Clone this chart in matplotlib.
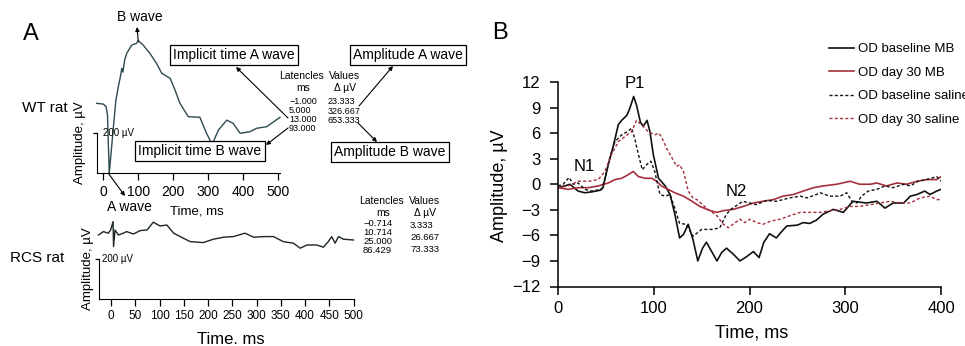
import numpy as np
import matplotlib.pyplot as plt

plt.rcParams['font.family'] = ['Liberation Sans', 'DejaVu Sans']

W, H = 965, 346

# ---- panel A: WT rat ERG trace (time ms, amplitude uV) ----
wt_t = [-19, 0, 8, 12, 17, 29, 36, 43, 48, 53, 56, 61, 67, 81, 95, 100, 114, 133, 152, 167,
        191, 205, 219, 243, 276, 295, 311, 329, 353, 371, 391, 419, 438, 467, 505]
wt_v = [351, 347, 334, 292, 1, 234, 367, 434, 477, 526, 507, 567, 601, 642, 651, 664, 642, 601, 551, 501,
        476, 417, 351, 284, 281, 201, 146, 217, 267, 251, 201, 209, 226, 234, 281]

# ---- panel A: RCS rat ERG trace ----
rcs_t = [-26, -16, -6, -1, 4, 5, 8, 15, 25, 32, 46, 60, 74, 87, 101, 115, 129, 149, 163, 190,
         211, 232, 252, 276, 294, 314, 335, 355, 376, 390, 404, 424, 438, 448, 455, 462, 469, 479, 500]
rcs_v = [320, 337, 329, 345, 387, 262, 345, 320, 329, 337, 325, 342, 345, 384, 365, 370, 329, 304, 287, 282,
         299, 309, 312, 329, 309, 312, 312, 287, 279, 254, 270, 270, 259, 287, 312, 279, 312, 299, 295]

wt_lat = ['\u22121.000', '5.000', '13.000', '93.000']
wt_amp = ['23.333', '326.667', '653.333']
rcs_lat = ['\u22120.714', '10.714', '25.000', '86.429']
rcs_amp = ['3.333', '26.667', '73.333']

# ---- panel B: VEP traces ----
bmb_t = [0, 7, 12.5, 21, 28, 35, 44, 47, 52.5, 58, 63, 66.5, 72, 75, 79, 82, 86, 89, 93, 96, 99.5,
         105, 112, 117, 122, 127, 131, 136, 141, 146, 151, 155, 160, 166, 171, 176, 183, 190, 197,
         204, 210, 215, 221, 228, 234, 239, 250, 256, 263, 270, 277, 287.5, 298, 308, 322, 333,
         341.5, 350, 361, 368, 375, 383, 388.5, 395.5, 400]
bmb_v = [-0.4, -0.2, 0, -0.8, -1.0, -0.9, -0.7, -0.4, 2.3, 4.6, 7.0, 7.5, 8.1, 8.9, 10.3, 9.3, 7.3, 6.8, 7.5, 6.2, 3.5,
         0.7, -0.2, -1.2, -3.5, -6.3, -5.9, -4.7, -6.5, -9.0, -7.5, -6.8, -7.8, -9.0, -8.0, -7.5, -8.2, -9.0, -8.5,
         -7.9, -8.6, -6.8, -5.8, -6.3, -5.5, -4.9, -4.8, -4.5, -4.6, -4.2, -3.5, -2.95, -3.3, -2.0, -2.2, -2.0,
         -2.8, -2.2, -2.2, -1.4, -1.2, -0.8, -1.2, -0.8, -0.6]

dmb_t = [0, 10.8, 21, 32, 42, 52.5, 59.5, 66.5, 73, 78.6, 84, 91, 98, 103, 108, 115, 122, 131, 140, 148,
         159, 166, 172.6, 183, 193.5, 204, 214, 225, 235, 246, 256, 267, 277, 291, 305, 315, 326, 333,
         343, 354, 364, 375, 385, 395.5, 400]
dmb_v = [-0.4, -0.6, -0.4, -0.4, -0.2, 0.15, 0.55, 0.7, 1.1, 1.5, 0.9, 0.7, 0.7, 0.35, -0.2, -0.6, -1.0, -1.4, -2.0, -2.6,
         -3.1, -3.3, -3.1, -2.95, -2.6, -2.2, -2.0, -1.8, -1.4, -1.2, -0.8, -0.4, -0.2, 0, 0.35, 0, 0, 0.15,
         -0.2, 0.15, 0, 0.35, 0.55, 0.55, 0.9]

bsal_t = [0, 5.5, 11.5, 16, 21, 28, 35, 45.6, 49, 54, 59.5, 66.5, 73, 77, 80, 84, 88, 92.6, 97, 101,
          106.5, 112, 117, 122, 127, 134, 141, 150, 162, 169, 176, 181, 193, 207, 218, 228, 235, 242,
          253, 260, 270, 274, 284, 294.5, 301.5, 307, 312, 317, 324, 333, 341.5, 350, 361, 368, 376,
          385, 395.5, 400]
bsal_v = [-0.2, 0, 0.8, 0, 0.15, -0.6, -0.8, -0.6, 0.7, 3.1, 5.0, 5.8, 6.2, 6.6, 5.4, 3.5, 1.7, 2.3, 2.7, 1.5,
          -1.2, -1.4, -1.2, -2.8, -4.6, -4.7, -6.1, -5.3, -5.3, -5.1, -3.5, -2.9, -2.0, -2.4, -1.9, -2.0, -1.8, -1.6,
          -1.4, -1.6, -1.2, -1.0, -1.4, -1.4, -1.0, -2.0, -2.2, -1.4, -0.8, -0.6, -0.2, -0.4, 0, -0.2, 0.35,
          0.55, 0.9, 0.35]

dsal_t = [0, 11, 21, 32, 42, 49, 56, 63, 70, 77, 82, 87, 94, 101, 105, 108, 113.5, 119, 124, 127,
          131, 136, 141, 145, 155, 166, 172.6, 178, 185, 190, 195, 200.5, 207.5, 214, 223, 232, 242,
          253, 263, 274, 284, 294.5, 305, 315, 326, 336, 347, 357, 368, 378, 388.5, 395.5, 400]
dsal_v = [-0.4, -0.2, 0.35, 0.35, 0.55, 1.5, 3.5, 5.0, 5.6, 6.2, 7.5, 7.0, 6.2, 5.8, 6.0, 5.6, 4.2, 3.1, 2.1, 2.3,
          1.5, -0.8, -1.6, -1.8, -2.8, -3.7, -4.7, -5.1, -4.5, -4.1, -4.5, -4.1, -4.5, -4.7, -4.3, -4.1, -3.7,
          -3.3, -3.3, -3.3, -3.1, -2.95, -2.6, -2.6, -2.4, -2.2, -2.0, -2.2, -2.2, -1.6, -1.4, -1.8, -1.8]

RED = '#a3303b'


def fp(x, y):
    return (x / W, 1 - y / H)


def rect(x0, x1, ytop, ybot):
    return [x0 / W, 1 - ybot / H, (x1 - x0) / W, (ybot - ytop) / H]


fig = plt.figure(figsize=(W / 100, H / 100), dpi=100)


def ftext(x, y, s, size, **kw):
    kw.setdefault('ha', 'center')
    kw.setdefault('va', 'center')
    fig.text(*fp(x, y), s, fontsize=size, **kw)


def farrow(ax, head, tail, **kw):
    ax.annotate('', xy=fp(*head), xytext=fp(*tail), xycoords='figure fraction',
                textcoords='figure fraction', annotation_clip=False,
                arrowprops=dict(arrowstyle='-|>', lw=0.8, color='k', mutation_scale=6,
                                shrinkA=0, shrinkB=0))


def erg_axes(ax, xticks, size):
    for s in ['top', 'right']:
        ax.spines[s].set_visible(False)
    ax.spines['left'].set_bounds(0, 200)
    ax.set_yticks([200])
    ax.set_yticklabels([''])
    ax.set_xticks(xticks)
    ax.tick_params(axis='x', direction='out', length=5, width=0.9, labelsize=size, pad=3)
    ax.tick_params(axis='y', direction='out', length=3, width=0.9)
    ax.patch.set_alpha(0)


# ---- WT rat ----
ax1 = fig.add_axes(rect(97, 280, 33.5, 173.5))
ax1.plot(wt_t, wt_v, color='#2e4a50', lw=1.0, clip_on=False)
ax1.set_xlim(-18, 505)
ax1.set_ylim(0, 700)
erg_axes(ax1, range(0, 501, 100), 10)
ax1.text(-1, 200, '200 \u00b5V', fontsize=7, va='center', ha='left')

# ---- RCS rat ----
ax2 = fig.add_axes(rect(99, 354, 215, 299))
ax2.plot(rcs_t, rcs_v, color='#1c2626', lw=1.0, clip_on=False)
ax2.set_xlim(-25, 501)
ax2.set_ylim(0, 420)
erg_axes(ax2, range(0, 501, 50), 8.5)
ax2.text(-19, 200, '200 \u00b5V', fontsize=7, va='center', ha='left')

ftext(31, 34, 'A', 17)
ftext(45, 108, 'WT rat', 11)
ftext(37, 258, 'RCS rat', 11)
ftext(80, 143, 'Amplitude, \u00b5V', 9.5, rotation=90)
ftext(88, 269, 'Amplitude, \u00b5V', 9.5, rotation=90)
ftext(197, 212, 'Time, ms', 9.5)
ftext(231, 339, 'Time. ms', 12)

# wave labels
ftext(140, 17, 'B wave', 10)
ax1.annotate('', xy=fp(137, 27), xycoords='figure fraction', xytext=(100, 660),
             textcoords='data', annotation_clip=False,
             arrowprops=dict(arrowstyle='-|>', lw=0.8, color='k', mutation_scale=6, shrinkA=0, shrinkB=0))
ftext(129, 207, 'A wave', 10)
ax1.annotate('', xy=fp(125, 196), xycoords='figure fraction', xytext=(14, 2),
             textcoords='data', annotation_clip=False,
             arrowprops=dict(arrowstyle='-|>', lw=0.8, color='k', mutation_scale=6, shrinkA=0, shrinkB=0))

# boxes
box = dict(boxstyle='square,pad=0.22', fc='white', ec='black', lw=0.9)
ftext(234, 55, 'Implicit time A wave', 10, bbox=box)
ftext(200, 151, 'Implicit time B wave', 10, bbox=box)
ftext(408, 55, 'Amplitude A wave', 10, bbox=box)
ftext(390, 152, 'Amplitude B wave', 10, bbox=box)

# WT table
ftext(301, 76, 'Latencles', 7.5)
ftext(345, 76, 'Values', 7.5)
ftext(303, 88, 'ms', 7.5)
ftext(345, 88, '\u0394 \u00b5V', 7.5)
for i, s in enumerate(wt_lat):
    ftext(289, 102 + 8.8 * i, s, 6.5, ha='left')
for i, s in enumerate(wt_amp):
    ftext(328, 102 + 9.2 * i, s, 6.5, ha='left')

farrow(ax1, (236, 67), (288, 118))
farrow(ax1, (266, 145), (288, 128))
farrow(ax1, (393, 66), (359, 106))
farrow(ax1, (377, 142), (358, 123))

# RCS table
ftext(381, 201, 'Latencles', 7.5)
ftext(425, 201, 'Values', 7.5)
ftext(383, 213, 'ms', 7.5)
ftext(425, 213, '\u0394 \u00b5V', 7.5)
for i, s in enumerate(rcs_lat):
    ftext(363, 223 + 9.3 * i, s, 6.8, ha='left')
for i, s in enumerate(rcs_amp):
    ftext(410, 225 + 12 * i, s, 6.8, ha='left')

# ---- panel B ----
ax3 = fig.add_axes(rect(558, 941, 82, 286.5))
ax3.plot(bmb_t, bmb_v, color='#111111', lw=1.2, label='OD baseline MB')
ax3.plot(dmb_t, dmb_v, color=RED, lw=1.2, label='OD day 30 MB')
ax3.plot(bsal_t, bsal_v, color='#111111', lw=1.0, ls=(0, (2.2, 1.6)), label='OD baseline saline')
ax3.plot(dsal_t, dsal_v, color=RED, lw=1.0, ls=(0, (2.2, 1.6)), label='OD day 30 saline')
ax3.set_xlim(0, 400)
ax3.set_ylim(-12, 12)
ax3.set_xticks(range(0, 401, 100))
ax3.set_yticks(range(-12, 13, 3))
ax3.set_yticklabels([str(v).replace('-', '\u2212') for v in range(-12, 13, 3)])
for s in ['top', 'right']:
    ax3.spines[s].set_visible(False)
for s in ['left', 'bottom']:
    ax3.spines[s].set_linewidth(1.1)
ax3.tick_params(axis='both', direction='out', length=5.5, width=1.1, labelsize=12)
ax3.tick_params(axis='y', pad=7)
ax3.tick_params(axis='x', pad=5)
ax3.text(27, 2.1, 'N1', fontsize=12, ha='center', va='center')
ax3.text(80, 11.8, 'P1', fontsize=12, ha='center', va='center')
ax3.text(186, -0.8, 'N2', fontsize=12, ha='center', va='center')

ftext(500, 33, 'B', 17)
ftext(500, 186, 'Amplitude, \u00b5V', 13, rotation=90)
ftext(752, 333, 'Time, ms', 13)

ax3.legend(loc='upper left', bbox_to_anchor=fp(829, 43), bbox_transform=fig.transFigure,
           frameon=False, fontsize=9.5, handlelength=1.9, handletextpad=0.3, labelspacing=0.85,
           borderpad=0, borderaxespad=0)

fig.savefig('out.png', dpi=100)
